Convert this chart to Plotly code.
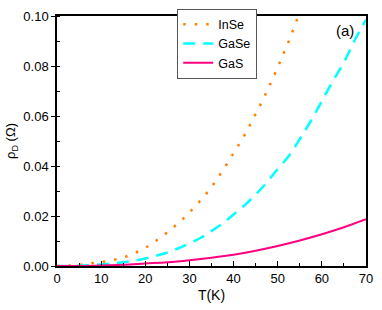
import plotly.graph_objects as go

T_inse = [0, 5, 7.5, 10, 12.5, 15, 17.5, 20, 22.5, 25, 27.5, 30, 32.5, 35, 37.5, 40, 42.5, 45, 47.5, 50, 52.5, 55]
rho_inse = [0.0, 0.0004, 0.0010, 0.0016, 0.0023, 0.0034, 0.0051, 0.0073, 0.0102, 0.0135, 0.0172, 0.0214,
            0.0262, 0.0316, 0.0381, 0.0452, 0.0524, 0.0608, 0.0697, 0.0795, 0.0899, 0.1015]

T_gase = [0, 5, 7.5, 10, 12.5, 15, 17.5, 20, 22.5, 25, 27.5, 30, 32.5, 35, 37.5, 40, 42.5, 45, 47.5, 50,
          52.5, 55, 57.5, 60, 62.5, 65, 67.5, 70]
rho_gase = [0.0, 0.0001, 0.0003, 0.0006, 0.0010, 0.0015, 0.0021, 0.0030, 0.0041, 0.0054, 0.0071, 0.0091,
            0.0112, 0.0140, 0.0170, 0.0206, 0.0243, 0.0286, 0.0334, 0.0388, 0.0440, 0.0508, 0.0580, 0.0660,
            0.0740, 0.0815, 0.0905, 0.0985]

T_gas = [0, 5, 10, 15, 20, 25, 30, 35, 40, 45, 50, 55, 60, 65, 70]
rho_gas = [0.0, 0.0000, 0.0002, 0.0005, 0.0010, 0.0015, 0.0023, 0.0033, 0.0045, 0.0061, 0.0080, 0.0102,
           0.0127, 0.0155, 0.0187]

x_ticks = [0, 10, 20, 30, 40, 50, 60, 70]
y_ticks = [0.00, 0.02, 0.04, 0.06, 0.08, 0.10]
y_tick_labels = ["0.00", "0.02", "0.04", "0.06", "0.08", "0.10"]

FONT = "Liberation Sans, Arial, sans-serif"

fig = go.Figure()
fig.add_trace(go.Scatter(x=T_inse, y=rho_inse, mode="lines", name="InSe", line_shape="spline",
                         line=dict(color="#FF8000", width=2.5, dash="2.5px,9px")))
fig.add_trace(go.Scatter(x=T_gase, y=rho_gase, mode="lines", name="GaSe", line_shape="spline",
                         line=dict(color="#00FFFF", width=2.5, dash="12px,8px")))
fig.add_trace(go.Scatter(x=T_gas, y=rho_gas, mode="lines", name="GaS", line_shape="spline",
                         line=dict(color="#FF0080", width=2)))

fig.update_layout(
    width=382, height=310,
    margin=dict(l=56, r=12, t=9, b=43),
    paper_bgcolor="white", plot_bgcolor="white",
    font=dict(family=FONT, size=12, color="black"),
    showlegend=True,
    legend=dict(x=0.389, y=1.03, xanchor="left", yanchor="top",
                bordercolor="#555555", borderwidth=1, bgcolor="white",
                font=dict(size=12.5), tracegroupgap=0, itemwidth=30),
    annotations=[dict(text="(a)", x=0.968, y=0.984, xref="paper", yref="paper",
                      xanchor="right", yanchor="top", showarrow=False,
                      font=dict(size=15, family=FONT))],
)

fig.update_xaxes(
    range=[0, 70], tickvals=x_ticks, ticks="inside", ticklen=5, tickwidth=1.2, tickcolor="black",
    showline=True, linecolor="black", linewidth=1.5, mirror=True, showgrid=False, zeroline=False,
    minor=dict(ticks="inside", ticklen=3, dtick=5, tickcolor="black", tickwidth=1),
    title=dict(text="T(K)", font=dict(size=14), standoff=5),
    tickfont=dict(size=13),
)
fig.update_yaxes(
    range=[0, 0.10], tickvals=y_ticks, ticktext=y_tick_labels, ticks="outside", ticklen=4,
    tickwidth=1.2, tickcolor="black",
    showline=True, linecolor="black", linewidth=1.5, mirror=True, showgrid=False, zeroline=False,
    minor=dict(ticks="inside", ticklen=3, dtick=0.01, tickcolor="black", tickwidth=1),
    title=dict(text="ρ<sub>D</sub> (Ω)", font=dict(size=13), standoff=5),
    tickfont=dict(size=13),
)

fig.write_html("out.html", config={"displayModeBar": False},
               post_script="document.body.style.margin='0';")
